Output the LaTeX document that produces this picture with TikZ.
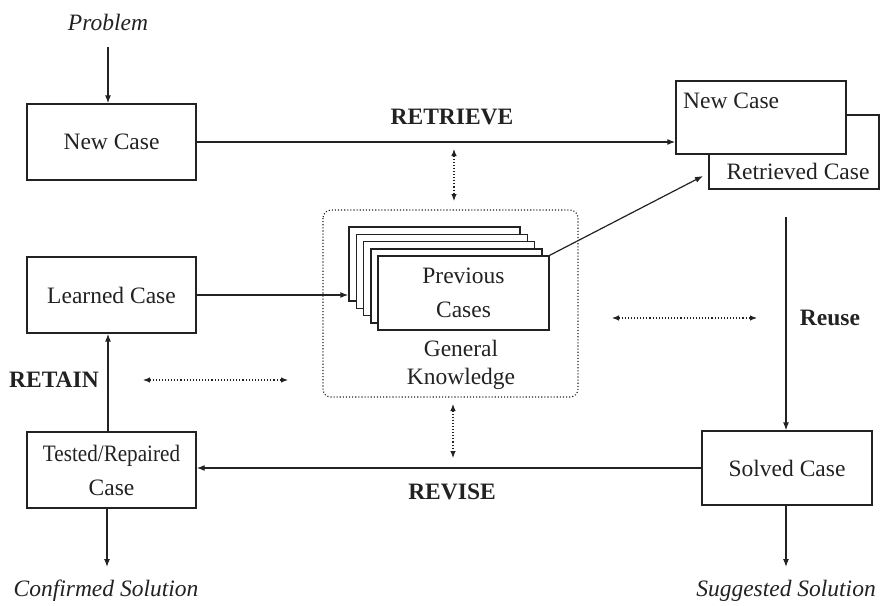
\documentclass[tikz,border=0pt]{standalone}
\usepackage{fontspec}
\setmainfont{Liberation Serif}
\usetikzlibrary{arrows.meta}
\definecolor{ink}{HTML}{222222}
\tikzset{
  box/.style={draw=ink, line width=1.4pt, fill=white, inner sep=0pt, font=\fontsize{23.5}{34}\selectfont, text=ink, align=center},
  txt/.style={inner sep=0pt, font=\fontsize{23.5}{34}\selectfont, text=ink, align=center},
  itxt/.style={txt, font=\fontsize{23.5}{34}\selectfont\itshape},
  btxt/.style={txt, font=\fontsize{23.5}{34}\selectfont\bfseries},
  flow/.style={draw=ink, line width=1.2pt, -{Latex[length=8pt,width=6pt]}},
  dots/.style={draw=ink, line width=1.1pt, dotted, {Latex[length=7pt,width=5.5pt]}-{Latex[length=7pt,width=5.5pt]}},
}
\begin{document}
\begin{tikzpicture}[x=1pt,y=-1pt]
\useasboundingbox (0,0) rectangle (880,605);
% left column
\node[itxt] (problem) at (108,22) {Problem};
\coordinate (probtail) at (108,47);
\node[box, minimum width=169pt, minimum height=76pt] (newcase) at (111.5,142) {New Case};
\node[box, minimum width=169pt, minimum height=76pt] (learned) at (111.5,295) {Learned Case};
\node[box, minimum width=169pt, minimum height=76pt] (tested) at (111.5,470) {\scalebox{0.9}[1]{Tested/Repaired}\\Case};
\node[itxt] (confirmed) at (106,591) {Confirmed Solution};
% top right
\node[box, minimum width=170pt, minimum height=74pt] (retrieved) at (794,152) {};
\node[box, minimum width=170pt, minimum height=73pt] (nc2) at (761,117.5) {};
\node[txt, anchor=west] (nctext) at (683,101) {New Case};
\node[txt] (rctext) at (798,171) {Retrieved Case};
% knowledge base
\draw[draw=ink, line width=1.1pt, dotted, rounded corners=8pt] (323,210) rectangle (578,397);
\foreach \i in {0,1,2,3} {
  \node[box, minimum width=171pt, minimum height=74pt] (s\i) at ({349+7.3*\i+85.5},{227+7.3*\i+37}) {};
}
\node[box, minimum width=171pt, minimum height=74pt] (prev) at (463.5,293) {Previous\\Cases};
\node[txt, font=\fontsize{23.5}{28}\selectfont] (gk) at (461,365) {General\\Knowledge};
% right column
\coordinate (reusetop) at (786,217);
\node[box, minimum width=170pt, minimum height=74pt] (solved) at (787,468) {Solved Case};
\node[itxt] (suggested) at (786,591) {Suggested Solution};
% labels
\node[btxt] (retrieve) at (452,117) {RETRIEVE};
\node[btxt] (revise) at (452,492) {REVISE};
\node[btxt] (retain) at (54,380) {RETAIN};
\node[btxt] (reuse) at (830,318) {Reuse};
% connectors
\draw[flow] (probtail) -- (probtail |- newcase.north);
\draw[flow] (newcase.east) -- (newcase.east -| nc2.west);
\coordinate (rtip) at (703,176);
\draw[flow] (prev.north east) -- (rtip);
\draw[flow] (reusetop) -- (reusetop |- solved.north);
\draw[flow] (solved.west) -- (solved.west -| tested.east);
\draw[flow] ([xshift=-3.5pt]tested.north) -- ([xshift=-3.5pt]learned.south);
\draw[flow] (learned.east) -- (learned.east -| s0.west);
\coordinate (confa) at (107,567);
\draw[flow] (tested.south -| confa) -- (confa);
\coordinate (sugga) at (786,567);
\draw[flow] (solved.south -| sugga) -- (sugga);
% dotted double arrows
\coordinate (d1a) at (454,149); \coordinate (d1b) at (454,201);
\coordinate (d2a) at (453,404); \coordinate (d2b) at (453,458);
\coordinate (d3a) at (143,380); \coordinate (d3b) at (288,380);
\coordinate (d4a) at (612,318); \coordinate (d4b) at (757,318);
\draw[dots] (d1a) -- (d1b);
\draw[dots] (d2a) -- (d2b);
\draw[dots] (d3a) -- (d3b);
\draw[dots] (d4a) -- (d4b);
\end{tikzpicture}
\end{document}
